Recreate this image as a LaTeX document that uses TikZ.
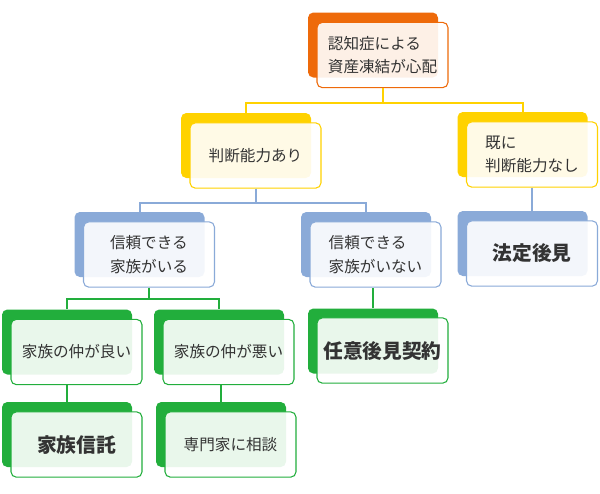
\documentclass[tikz,border=0pt]{standalone}
\usepackage{fontspec}
\newfontfamily\jpfont{Noto Sans CJK JP}
\usepackage{tikz}
\usetikzlibrary{positioning, calc}

\definecolor{corange}{HTML}{EE6A0A}
\definecolor{cyellow}{HTML}{FFD200}
\definecolor{cblue}{HTML}{8AAAD8}
\definecolor{cgreen}{HTML}{22AE3C}
\definecolor{ctext}{HTML}{333333}

\tikzset{
  cardback/.style={fill=#1, rounded corners=4pt, minimum width=97.5pt, minimum height=48.75pt, inner sep=0pt},
  cardfront/.style={draw=#1, line width=0.8pt, fill=white, fill opacity=0.9, text opacity=1,
    rounded corners=4pt, minimum width=98.25pt, minimum height=49pt, inner sep=0pt,
    align=left, text=ctext, font=\jpfont\fontsize{11.7}{17.5}\selectfont},
  bigtext/.style={font=\jpfont\bfseries\fontsize{14.8}{18}\selectfont},
  link/.style={draw=#1, line width=1.5pt},
}

\begin{document}
\begin{tikzpicture}[x=0.75pt, y=-0.75pt]
  \useasboundingbox (0,0) rectangle (600,493);

  % coloured backs
  \node[cardback=corange] (top-b) at (373,45) {};
  \node[cardback=cyellow] (yes-b) at (246,145.5) {};
  \node[cardback=cyellow] (no-b) at (522.5,144.5) {};
  \node[cardback=cblue] (trust-b) at (139.5,244.5) {};
  \node[cardback=cblue] (notrust-b) at (366,244.5) {};
  \node[cardback=cblue] (court-b) at (522.5,243.5) {};
  \node[cardback=cgreen] (good-b) at (67,342) {};
  \node[cardback=cgreen] (bad-b) at (219,342) {};
  \node[cardback=cgreen] (plan-b) at (373,341) {};
  \node[cardback=cgreen] (family-b) at (67,434.5) {};
  \node[cardback=cgreen] (expert-b) at (221,434.5) {};

  % cards with text
  \node[cardfront=corange] (top) at (382.5,55) {認知症による\\資産凍結が心配};
  \node[cardfront=cyellow] (yes) at (255.5,155.5) {判断能力あり};
  \node[cardfront=cyellow] (no) at (532,154.5) {既に\\判断能力なし};
  \node[cardfront=cblue] (trust) at (149,254.5) {信頼できる\\家族がいる};
  \node[cardfront=cblue] (notrust) at (375.5,254.5) {信頼できる\\家族がいない};
  \node[cardfront=cblue, bigtext] (court) at (532,253.5) {法定後見};
  \node[cardfront=cgreen] (good) at (76.5,352) {家族の仲が良い};
  \node[cardfront=cgreen] (bad) at (228.5,352) {家族の仲が悪い};
  \node[cardfront=cgreen, bigtext] (plan) at (382.5,350.5) {任意後見契約};
  \node[cardfront=cgreen, bigtext] (family) at (76.5,444.5) {家族信託};
  \node[cardfront=cgreen] (expert) at (230.5,444.5) {専門家に相談};

  % connectors
  \draw[link=cyellow] (top.south) -- ++(0,15) -| (yes-b.north);
  \draw[link=cyellow] (top.south) -- ++(0,15) -| (no-b.north);
  \draw[link=cblue] (yes.south) -- ++(0,14) -| (trust-b.north);
  \draw[link=cblue] (yes.south) -- ++(0,14) -| (notrust-b.north);
  \draw[link=cblue] (no.south) -- (no.south |- court-b.north);
  \draw[link=cgreen] (trust.south) -- ++(0,11) -| (good-b.north);
  \draw[link=cgreen] (trust.south) -- ++(0,11) -| (bad-b.north);
  \draw[link=cgreen] (plan-b.north) -- (plan-b.north |- notrust.south);
  \draw[link=cgreen] (family-b.north) -- (family-b.north |- good.south);
  \draw[link=cgreen] (expert-b.north) -- (expert-b.north |- bad.south);
\end{tikzpicture}
\end{document}
